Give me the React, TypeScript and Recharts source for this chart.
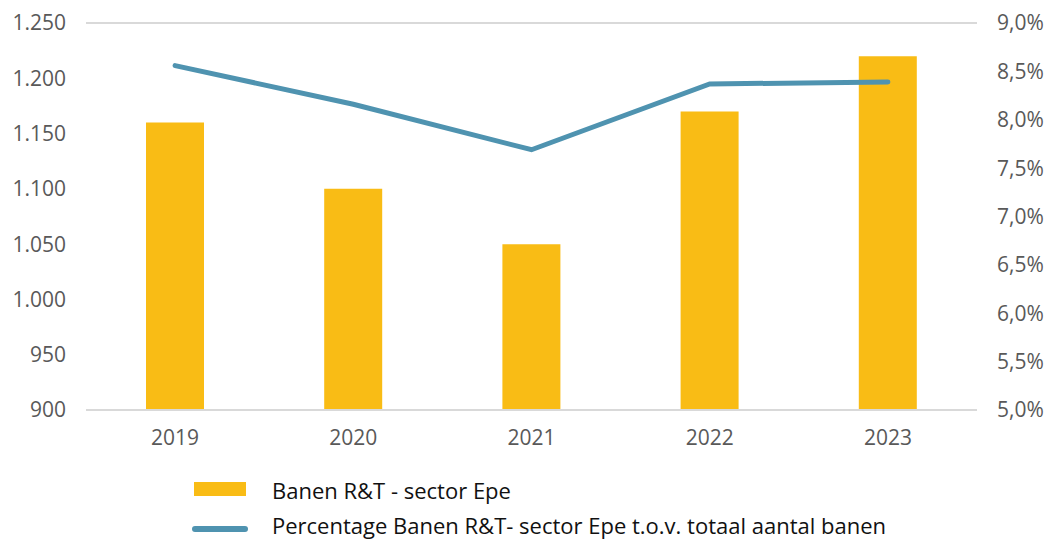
import {
  Bar,
  CartesianGrid,
  ComposedChart,
  Legend,
  Line,
  XAxis,
  YAxis,
} from 'recharts'

const BAR = '#f9bc15'
const LINE = '#4f93b0'
const GRID = '#d9d9d9'
const TICK = '#595959'
const FONT = '"Open Sans", "Noto Sans", sans-serif'

const years = ['2019', '2020', '2021', '2022', '2023']
const banen = [1160, 1100, 1050, 1170, 1220]
const percentage = [8.56, 8.16, 7.69, 8.37, 8.39]

const leftTicks = [900, 950, 1000, 1050, 1100, 1150, 1200, 1250]
const rightTicks = [5, 5.5, 6, 6.5, 7, 7.5, 8, 8.5, 9]

const barLabel = 'Banen R&T - sector Epe'
const lineLabel = 'Percentage Banen R&T- sector Epe t.o.v. totaal aantal banen'

const data = years.map((year, i) => ({ year, banen: banen[i], pct: percentage[i] }))

const fmtThousands = (v: number) => String(v).replace(/\B(?=(\d{3})+(?!\d))/g, '.')
const fmtPct = (v: number) => `${v.toFixed(1).replace('.', ',')}%`

// legend sits under the axis, drawn by hand so the swatches match the original
function ChartLegend() {
  return (
    <svg width={1051} height={72} style={{ display: 'block', overflow: 'visible' }}>
      <rect x={194} y={14} width={52} height={14} fill={BAR} />
      <text x={272} y={31} fontSize={22} fontFamily={FONT} fill="#111">
        {barLabel}
      </text>
      <line x1={195} y1={61} x2={245} y2={61} stroke={LINE} strokeWidth={6} strokeLinecap="round" />
      <text x={272} y={66} fontSize={22} fontFamily={FONT} fill="#111">
        {lineLabel}
      </text>
    </svg>
  )
}

export default function App() {
  return (
    <div style={{ position: 'absolute', top: 0, left: 0, background: '#fff' }}>
      <ComposedChart
        width={1051}
        height={540}
        data={data}
        margin={{ top: 23, right: 14, left: 16, bottom: 100 }}
      >
        <CartesianGrid vertical={false} stroke={GRID} strokeWidth={2} />
        <XAxis
          dataKey="year"
          height={30}
          tickLine={false}
          axisLine={{ stroke: GRID, strokeWidth: 2 }}
          tickSize={0}
          tickMargin={20}
          tick={{ fill: TICK, fontSize: 21, fontFamily: FONT }}
        />
        <YAxis
          yAxisId="left"
          width={70}
          domain={[900, 1250]}
          ticks={leftTicks}
          tickFormatter={fmtThousands}
          axisLine={false}
          tickLine={false}
          tickSize={0}
          tickMargin={20}
          tick={{ fill: TICK, fontSize: 21, fontFamily: FONT }}
        />
        <YAxis
          yAxisId="right"
          orientation="right"
          width={60}
          domain={[5, 9]}
          ticks={rightTicks}
          tickFormatter={fmtPct}
          axisLine={false}
          tickLine={false}
          tickSize={0}
          tickMargin={20}
          tick={{ fill: TICK, fontSize: 21, fontFamily: FONT }}
        />
        <Bar
          yAxisId="left"
          dataKey="banen"
          name={barLabel}
          fill={BAR}
          barSize={58}
          isAnimationActive={false}
        />
        <Line
          yAxisId="right"
          dataKey="pct"
          name={lineLabel}
          stroke={LINE}
          strokeWidth={5}
          strokeLinecap="round"
          dot={false}
          activeDot={false}
          type="linear"
          isAnimationActive={false}
        />
        <Legend
          layout="horizontal"
          verticalAlign="middle"
          align="center"
          content={() => <ChartLegend />}
          wrapperStyle={{ top: 468, left: 0, width: 1051, height: 72 }}
        />
      </ComposedChart>
    </div>
  )
}
